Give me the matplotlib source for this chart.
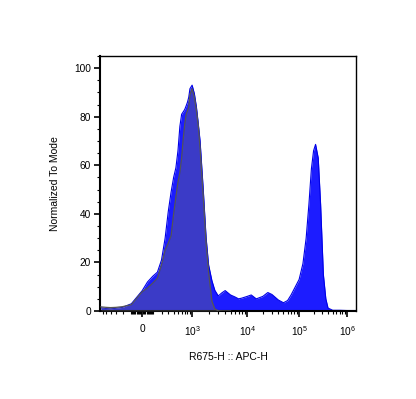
import numpy as np
import matplotlib
matplotlib.use("Agg")
import matplotlib.pyplot as plt
from matplotlib.ticker import FixedLocator, NullFormatter

plt.rcParams['font.family'] = ['Liberation Sans', 'DejaVu Sans']
plt.rcParams['mathtext.fontset'] = 'custom'
plt.rcParams['mathtext.rm'] = 'Liberation Sans'
plt.rcParams['mathtext.it'] = 'Liberation Sans'

# ---- data ----
blue_x = [-650, -500, -400, -300, -200, -100, 0, 50, 100, 150, 200, 250, 300, 350,
          400, 450, 500, 550, 600, 650, 700, 750, 800, 850, 900, 1000, 1100, 1200,
          1300, 1400, 1600, 1800, 2000, 2300, 2600, 3000, 3500, 4000, 5000, 6000,
          7000, 8000, 1e4, 1.2e4, 1.5e4, 2e4, 2.5e4, 3e4, 4e4, 5e4, 6e4, 7e4, 8e4,
          1e5, 1.2e5, 1.4e5, 1.6e5, 1.8e5, 2e5, 2.2e5, 2.5e5, 2.8e5, 3.2e5, 3.6e5,
          4e5, 5e5, 7e5, 1e6, 1.5e6]
blue_y = [1.3, 1.0, 0.9, 1.1, 1.5, 3.0, 8.3, 12, 14.3, 16, 21, 30, 41, 49,
          55, 59, 66, 76, 81, 82, 83, 84.5, 86, 88, 91.5, 93, 89.5, 84,
          77, 70, 50, 30.4, 19, 12.5, 8.5, 6.2, 7.5, 8.4, 6.6, 5.8,
          5.0, 5.3, 6.0, 6.6, 5.0, 6.0, 7.6, 6.8, 4.5, 3.4, 4.3, 6.6, 9,
          13, 19.5, 30, 44, 58.5, 66, 68.6, 63, 44, 15, 5,
          1.2, 0.3, 0.3, 0.2, 0.2]

gray_x = [-650, -500, -400, -300, -200, -100, 0, 50, 100, 150, 200, 250, 300, 350,
          400, 450, 500, 550, 600, 650, 700, 750, 800, 850, 900, 1000, 1100, 1200,
          1300, 1400, 1600, 1800, 2000, 2300, 2600, 3000, 3500, 5000]
gray_y = [1.7, 1.5, 1.4, 1.5, 1.8, 2.6, 7.9, 9.5, 11.5, 13.5, 19, 25, 28, 31,
          40, 47, 53, 57, 63, 71, 77, 81, 82.5, 84, 89, 91.5, 88, 82.5,
          76, 67, 47, 28, 16, 4, 0.8, 0.1, 0, 0]

x_major = [0, 1e3, 1e4, 1e5, 1e6]
x_major_labels = ['0', r'$10^{3}$', r'$10^{4}$', r'$10^{5}$', r'$10^{6}$']
y_major = [0, 20, 40, 60, 80, 100]

# ---- biexponential-like display scale ----
W = 190.0
U_ANCH = np.array([-30.0, 0.0, 2.362, 4.656, 6.959, 9.262, 30.0])
P_ANCH = np.array([-493.0, 142.0, 192.0, 247.0, 299.0, 347.0, 779.0])

def fwd(x):
    u = np.arcsinh(np.asarray(x, dtype=float) / W)
    return np.interp(u, U_ANCH, P_ANCH)

def inv(p):
    u = np.interp(np.asarray(p, dtype=float), P_ANCH, U_ANCH)
    return W * np.sinh(u)

fig = plt.figure(figsize=(4.16, 3.99), dpi=100)
ax = fig.add_axes([100/416, 1-311/399, 256/416, 255/399])
ax.set_xscale('function', functions=(fwd, inv))

ax.fill_between(blue_x, blue_y, 0, color='#1c1cff', lw=0, zorder=1)
ax.plot(blue_x, blue_y, color='#0000e6', lw=0.8, zorder=2)
ax.fill_between(gray_x, gray_y, 0, color='#6e6e6e', alpha=0.38, lw=0, zorder=3)
ax.plot(gray_x, gray_y, color='#555555', lw=0.9, zorder=4)

ax.set_xlim(-680, 1.53e6)
ax.set_ylim(0, 105)

minors = []
for s in (-1, 1):
    for v in list(range(10, 100, 10)) + list(range(100, 1000, 100)):
        minors.append(s * v)
for d in (1e3, 1e4, 1e5):
    for k in range(2, 10):
        minors.append(k * d)
minors = [m for m in minors if m > -680]
ax.xaxis.set_major_locator(FixedLocator(x_major))
ax.set_xticklabels(x_major_labels)
ax.xaxis.set_minor_locator(FixedLocator(minors))
ax.xaxis.set_minor_formatter(NullFormatter())

ax.yaxis.set_major_locator(FixedLocator(y_major))
ax.yaxis.set_minor_locator(FixedLocator([v for v in range(0, 106, 5) if v % 20]))

ax.tick_params(axis='both', which='major', direction='out', length=4.5, width=1.2,
               labelsize=7.3, pad=2)
ax.tick_params(axis='both', which='minor', direction='out', length=2.5, width=0.8)
ax.tick_params(axis='x', which='major', pad=5)

for sp in ax.spines.values():
    sp.set_linewidth(1.0)
ax.spines['bottom'].set_linewidth(1.5)
ax.spines['left'].set_linewidth(1.5)

ax.set_xlabel('R675-H :: APC-H', fontsize=7.5, labelpad=10)
ax.set_ylabel('Normalized To Mode', fontsize=7.5, labelpad=10)

fig.savefig('out.png', dpi=100)
